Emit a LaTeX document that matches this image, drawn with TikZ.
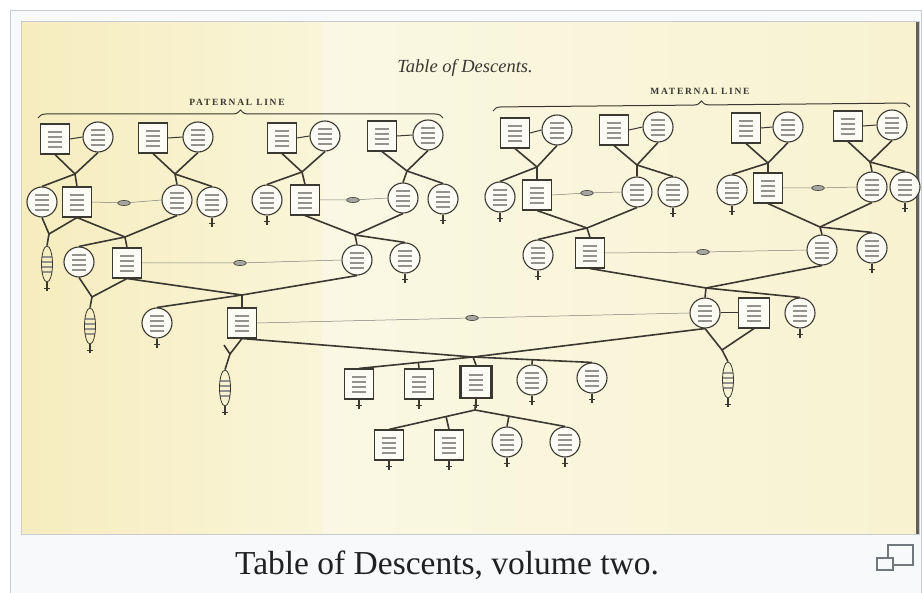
\documentclass[tikz,border=0pt]{standalone}
\usepackage{fontspec}
\setmainfont{Liberation Serif}
\newfontfamily\capfont[LetterSpace=18]{Liberation Serif}
\usetikzlibrary{positioning,shapes.geometric,decorations.pathreplacing,calc}
\definecolor{ink}{RGB}{58,56,48}
\definecolor{paper}{RGB}{250,248,228}
\definecolor{paperl}{RGB}{246,236,190}
\definecolor{frame}{RGB}{200,204,209}
\definecolor{capbg}{RGB}{248,249,250}
\definecolor{captext}{RGB}{32,33,34}
\definecolor{icon}{RGB}{114,119,125}
\tikzset{
  scrawl/.style={path picture={\foreach \k in {-8,-3,2,7}{\draw[ink!55, line width=1.2pt] ([xshift=-7pt,yshift=\k pt]path picture bounding box.center) -- ++(14pt,0);}}},
  man/.style={draw=ink, line width=1.1pt, fill=paper!40!white, minimum width=29pt, minimum height=30pt, inner sep=0pt, scrawl},
  woman/.style={circle, draw=ink, line width=1.1pt, fill=paper!40!white, minimum size=30pt, inner sep=0pt, scrawl},
  issue/.style={ellipse, draw=ink, line width=0.8pt, minimum width=11pt, minimum height=36pt, inner sep=0pt, scrawl},
  knot/.style={ellipse, draw=ink, fill=ink!45, line width=0.6pt, minimum width=13pt, minimum height=5pt, inner sep=0pt},
  stem/.style={draw=ink, line width=1.6pt},
  wed/.style={draw=ink!65, line width=0.5pt},
}
\begin{document}
\begin{tikzpicture}[x=1pt, y=-1pt]
\useasboundingbox (0,0) rectangle (922,593);
% frame, paper and caption
\filldraw[fill=capbg, draw=frame] (10.5,10.5) rectangle (921.5,610);
\shade[left color={rgb,255:red,246;green,236;blue,190}, right color={rgb,255:red,249;green,245;blue,216}] (22,22) rectangle (322,534);
\shade[left color=paper, right color={rgb,255:red,248;green,242;blue,208}] (322,22) rectangle (918,534);
\fill[ink!80] (916,22) rectangle (919,534);
\draw[frame] (21,21) rectangle (919.5,534.5);
\node[font=\fontsize{33.5}{33.5}\selectfont, text=captext, anchor=base] (caption) at (447,575) {Table of Descents, volume two.};
\draw[icon, line width=2.2pt] (888,545) rectangle (913,565);
\filldraw[icon, fill=capbg, line width=2.2pt] (877,558) rectangle (893,570);

% headings
\node[font=\fontsize{18.5}{18.5}\selectfont\itshape, text=ink] (title) at (465,68) {Table of Descents.};
\node[font=\capfont\fontsize{9.5}{9.5}\selectfont\bfseries, text=ink] (patlab) at (237,102) {PATERNAL LINE};
\node[font=\capfont\fontsize{9.5}{9.5}\selectfont\bfseries, text=ink] (matlab) at (700,91) {MATERNAL LINE};
\draw[ink, line width=1pt, decorate, decoration={brace, amplitude=8pt}] (38,118) -- (443,118);
\draw[ink, line width=1pt, decorate, decoration={brace, amplitude=8pt}] (493,111) -- (910,107);

% Generation 1
\node[man] (pa1) at (55,139) {};   \node[woman] (pa1w) at (98,137) {};
\node[man] (pa2) at (153,138) {};  \node[woman] (pa2w) at (198,137) {};
\node[man] (pa3) at (282,138) {};  \node[woman] (pa3w) at (325,136) {};
\node[man] (pa4) at (382,136) {};  \node[woman] (pa4w) at (428,135) {};
\node[man] (ma1) at (515,133) {};  \node[woman] (ma1w) at (557,130) {};
\node[man] (ma2) at (614,130) {};  \node[woman] (ma2w) at (658,127) {};
\node[man] (ma3) at (746,128) {};  \node[woman] (ma3w) at (788,127) {};
\node[man] (ma4) at (848,126) {};  \node[woman] (ma4w) at (892,125) {};
\coordinate (jpa1) at (75,174);  \coordinate (jpa2) at (175,174);
\coordinate (jpa3) at (302,172); \coordinate (jpa4) at (407,171);
\coordinate (jma1) at (537,167); \coordinate (jma2) at (637,165);
\coordinate (jma3) at (768,163); \coordinate (jma4) at (870,162);

% Generation 2
\node[woman] (g2a) at (42,202) {};
\node[man]   (g2b) at (77,202) {};
\node[woman] (g2c) at (177,200) {};
\node[woman] (g2d) at (212,202) {};
\node[woman] (g2e) at (267,200) {};
\node[man]   (g2f) at (305,200) {};
\node[woman] (g2g) at (403,198) {};
\node[woman] (g2h) at (443,199) {};
\node[woman] (g2i) at (500,197) {};
\node[man]   (g2j) at (537,195) {};
\node[woman] (g2k) at (637,192) {};
\node[woman] (g2l) at (673,192) {};
\node[woman] (g2m) at (732,190) {};
\node[man]   (g2n) at (768,188) {};
\node[woman] (g2o) at (872,187) {};
\node[woman] (g2p) at (905,187) {};
\node[knot] (o2a) at (124,203) {};
\node[knot] (o2b) at (353,200) {};
\node[knot] (o2c) at (587,193) {};
\node[knot] (o2d) at (818,188) {};
\coordinate (j2a) at (125,237); \coordinate (j2b) at (355,235);
\coordinate (j2c) at (587,228); \coordinate (j2d) at (820,227);
\coordinate (v2a) at (49,234);
\node[issue] (t2a) at (47,264) {};

% Generation 3
\node[woman] (g3a) at (79,262) {};
\node[man]   (g3b) at (127,263) {};
\node[woman] (g3c) at (357,260) {};
\node[woman] (g3d) at (405,258) {};
\node[woman] (g3e) at (538,255) {};
\node[man]   (g3f) at (590,253) {};
\node[woman] (g3g) at (822,250) {};
\node[woman] (g3h) at (872,248) {};
\node[knot] (o3a) at (240,263) {};
\node[knot] (o3b) at (703,252) {};
\coordinate (j3a) at (242,295); \coordinate (j3b) at (706,288);
\coordinate (v3a) at (92,297);
\node[issue] (t3a) at (90,326) {};

% Generation 4
\node[woman] (g4a) at (157,323) {};
\node[man]   (g4b) at (242,323) {};
\node[woman] (g4c) at (705,313) {};
\node[man, minimum width=31pt] (g4d) at (754,313) {};
\node[woman] (g4e) at (800,313) {};
\node[knot] (o4a) at (472,318) {};
\coordinate (j4a) at (473,357);
\coordinate (v4a) at (230,354);
\coordinate (v4b) at (722,350);
\node[issue] (t4a) at (225,388) {};
\node[issue] (t4b) at (728,380) {};

% Generation 5
\node[man] (g5a) at (359,384) {};
\node[man] (g5b) at (419,384) {};
\node[man, line width=2.2pt, minimum width=31pt, minimum height=32pt] (g5c) at (476,382) {};
\node[woman] (g5d) at (532,380) {};
\node[woman] (g5e) at (592,378) {};
\coordinate (j5) at (475,410);

% Generation 6
\node[man] (g6a) at (389,445) {};
\node[man] (g6b) at (449,445) {};
\node[woman] (g6c) at (507,442) {};
\node[woman] (g6d) at (565,442) {};

% Connections
\foreach \p in {pa1,pa2,pa3,pa4,ma1,ma2,ma3,ma4}{
  \draw[stem, line width=1pt] (\p.east) -- (\p w.west);
  \draw[stem] (\p.south) -- (j\p) -- (\p w.south);
}
\foreach \j/\a/\b in {jpa1/g2a/g2b, jpa2/g2c/g2d, jpa3/g2e/g2f, jpa4/g2g/g2h,
                      jma1/g2i/g2j, jma2/g2k/g2l, jma3/g2m/g2n, jma4/g2o/g2p,
                      j2a/g3a/g3b, j2b/g3c/g3d, j2c/g3e/g3f, j2d/g3g/g3h,
                      j3a/g4a/g4b, j3b/g4c/g4e}{
  \draw[stem] (\a.north) -- (\j) -- (\b.north);
}
\foreach \a/\k/\b in {g2b/o2a/g2c, g2f/o2b/g2g, g2j/o2c/g2k, g2n/o2d/g2o,
                      g3b/o3a/g3c, g3f/o3b/g3g, g4b/o4a/g4c}{
  \draw[wed] (\a.east) -- (\k) -- (\b.west);
}
\draw[stem, line width=1pt] (g4c.east) -- (g4d.west);
\foreach \j/\a/\b in {j2a/g2b/g2c, j2b/g2f/g2g, j2c/g2j/g2k, j2d/g2n/g2o,
                      j3a/g3b/g3c, j3b/g3f/g3g, j4a/g4b/g4c, v2a/g2a/g2b,
                      v3a/g3a/g3b, v4b/g4c/g4d}{
  \draw[stem] (\a.south) -- (\j) -- (\b.south);
}
\draw[stem] (v2a) -- (t2a.north);
\draw[stem] (v3a) -- (t3a.north);
\draw[stem] (v4b) -- (t4b.north);
\draw[stem] ($(v4a)+(-6,-9)$) -- (v4a) -- (g4b.south);
\draw[stem] (v4a) -- (t4a.north);
% issue of the subject's parents
\draw[stem] (g5a.north) -- (j4a) -- (g5e.north);
\draw[stem] (j4a) -- (g5c.north);
\draw[stem] (g5b.north) -- ($(g5a.north)!(g5b.north)!(j4a)$);
\draw[stem] (g5d.north) -- ($(j4a)!(g5d.north)!(g5e.north)$);
\draw[stem] (g5c.south) -- (j5);
\draw[stem] (g6a.north) -- (j5) -- (g6d.north);
\draw[stem] (g6b.north) -- ($(g6a.north)!(g6b.north)!(j5)$);
\draw[stem] (g6c.north) -- ($(j5)!(g6c.north)!(g6d.north)$);

% descent marks
\foreach \n in {g2d,g2e,g2h,g2i,g2l,g2m,g2p,g3d,g3e,g3h,g4a,g4e,
                g5a,g5b,g5c,g5d,g5e,g6a,g6b,g6c,g6d,t2a,t3a,t4a,t4b}{
  \draw[stem, line width=1.1pt] (\n.south) -- ++(0,9) ++(-3,-3) -- ++(6,0);
}
\end{tikzpicture}
\end{document}
